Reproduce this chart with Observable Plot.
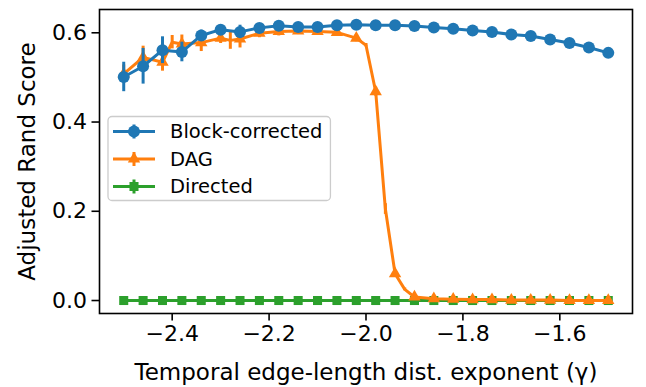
<!DOCTYPE html>
<html><head><meta charset="utf-8">
<script src="https://cdn.jsdelivr.net/npm/d3@7"></script>
<script src="https://cdn.jsdelivr.net/npm/@observablehq/plot@0.6"></script>
<style>body{margin:0;background:#fff} svg{display:block}</style>
</head><body><div id="chart"></div>
<script>
const gamma = [-2.50,-2.46,-2.42,-2.38,-2.34,-2.30,-2.26,-2.22,-2.18,-2.14,-2.10,-2.06,-2.02,-1.98,-1.94,-1.90,-1.86,-1.82,-1.78,-1.74,-1.70,-1.66,-1.62,-1.58,-1.54,-1.50];
const blockScore = [0.501,0.525,0.561,0.557,0.594,0.607,0.602,0.611,0.616,0.613,0.613,0.617,0.618,0.617,0.617,0.615,0.612,0.609,0.605,0.602,0.596,0.593,0.585,0.577,0.567,0.555];
const blockErr = [0.033,0.040,0.030,0.022,0.012,0.010,0.015,0.008,0.006,0.005,0.005,0.005,0.004,0.004,0.004,0.003,0.003,0.003,0.003,0.003,0.003,0.003,0.003,0.003,0.003,0.003];
const dagScore = [0.508,0.545,0.534,0.575,0.578,0.588,0.586,0.599,0.603,0.604,0.603,0.601,0.588,0.468,0.060,0.008,0.004,0.003,0.002,0.002,0.001,0.001,0.001,0.000,0.000,0.000];
const dagErr = [0.020,0.025,0.020,0.020,0.020,0.012,0.020,0.010,0.010,0.008,0.008,0.008,0.008,0.010,0.006,0.002,0,0,0,0,0,0,0,0,0,0];
const dagMidGamma = [-2.40,-2.28,-2.00,-1.96,-1.92];
const dagMidScore = [0.579,0.583,0.572,0.205,0.025];
const dagMidErr = [0.015,0.020,0.004,0.012,0.003];
const directedScore = [0,0,0,0,0,0,0,0,0,0,0,0,0,0,0,0,0,0,0,0,0,0,0,0,0,0];
const seriesNames = ["Block-corrected","DAG","Directed"];
const colors = ["#1f77b4","#ff7f0e","#2ca02c"];
const xTicks = [-2.4,-2.2,-2.0,-1.8,-1.6];
const yTicks = [0,0.2,0.4,0.6];
const xLabel = "Temporal edge-length dist. exponent (γ)";
const yLabel = "Adjusted Rand Score";

const block = gamma.map((g,i)=>({g, v:blockScore[i], e:blockErr[i]}));
const dag = gamma.map((g,i)=>({g, v:dagScore[i], e:dagErr[i]}));
const dagMid = dagMidGamma.map((g,i)=>({g, v:dagMidScore[i], e:dagMidErr[i]}));
const dagLine = dag.concat(dagMid).sort((a,b)=>a.g-b.g);
const directed = gamma.map((g,i)=>({g, v:directedScore[i], e:0}));

const LW = 3;
const fmt = d3.format(".1f");
const chart = Plot.plot({
  width: 646, height: 387,
  marginLeft: 99, marginRight: 14, marginTop: 9, marginBottom: 74,
  style: {fontFamily: "DejaVu Sans", background: "white", color: "black", overflow: "visible"},
  x: {domain: [-2.55, -1.45]},
  y: {domain: [-0.0291, 0.6522]},
  marks: [
    Plot.line(directed, {x:"g", y:"v", stroke: colors[2], strokeWidth: LW}),
    Plot.dot(directed, {x:"g", y:"v", symbol:"square", r:5.1, fill: colors[2], stroke: "none"}),
    Plot.ruleX(dagLine.filter(d=>d.e>0), {x:"g", y1:d=>d.v-d.e, y2:d=>d.v+d.e, stroke: colors[1], strokeWidth: LW}),
    Plot.line(dagLine, {x:"g", y:"v", stroke: colors[1], strokeWidth: LW}),
    Plot.dot(dag, {x:"g", y:"v", symbol:"triangle", r:4.6, fill: colors[1], stroke: "none"}),
    Plot.ruleX(block, {x:"g", y1:d=>d.v-d.e, y2:d=>d.v+d.e, stroke: colors[0], strokeWidth: LW}),
    Plot.line(block, {x:"g", y:"v", stroke: colors[0], strokeWidth: LW}),
    Plot.dot(block, {x:"g", y:"v", symbol:"circle", r:6, fill: colors[0], stroke: "none"}),
    Plot.frame({stroke: "black", strokeWidth: 1.6}),
    Plot.axisX({ticks: xTicks, tickFormat: fmt, tickSize: 7.5, tickPadding: 4, fontSize: 22, label: null, strokeWidth: 1.6}),
    Plot.axisY({ticks: yTicks, tickFormat: fmt, tickSize: 7.5, tickPadding: 5, fontSize: 22, label: null, strokeWidth: 1.6}),
    Plot.text([xLabel], {text: d=>d, frameAnchor: "bottom", dy: 59, fontSize: 23, lineAnchor: "middle", textAnchor: "middle"}),
    Plot.text([yLabel], {text: d=>d, frameAnchor: "left", dx: -72, rotate: -90, fontSize: 23, lineAnchor: "middle", textAnchor: "middle"})
  ]
});
document.getElementById("chart").appendChild(chart);

// legend
const svg = d3.select(chart);
const lg = svg.append("g").attr("font-family", "DejaVu Sans").attr("font-size", 19.5).attr("text-anchor", "start");
const box = lg.append("rect").attr("x", 108).attr("y", 116.5).attr("height", 84).attr("rx", 4)
  .attr("fill", "white").attr("fill-opacity", 0.8).attr("stroke", "#cccccc").attr("stroke-width", 1.3);
const symbols = [d3.symbolCircle, d3.symbolTriangle, d3.symbolSquare];
const rs = [6, 4.6, 5.1];
let maxEnd = 0;
seriesNames.forEach((name, k) => {
  const y = 131.5 + k * 27.5;
  lg.append("line").attr("x1", 113).attr("x2", 155).attr("y1", y).attr("y2", y).attr("stroke", colors[k]).attr("stroke-width", LW);
  lg.append("line").attr("x1", 134).attr("x2", 134).attr("y1", y-7).attr("y2", y+7).attr("stroke", colors[k]).attr("stroke-width", LW);
  lg.append("path").attr("d", d3.symbol(symbols[k], Math.PI*rs[k]*rs[k])()).attr("transform", `translate(134,${y})`).attr("fill", colors[k]);
  const t = lg.append("text").attr("x", 170).attr("y", y).attr("dy", "0.35em").text(name);
  maxEnd = Math.max(maxEnd, 170 + t.node().getComputedTextLength());
});
box.attr("width", maxEnd + 8 - 108);
</script></body></html>
